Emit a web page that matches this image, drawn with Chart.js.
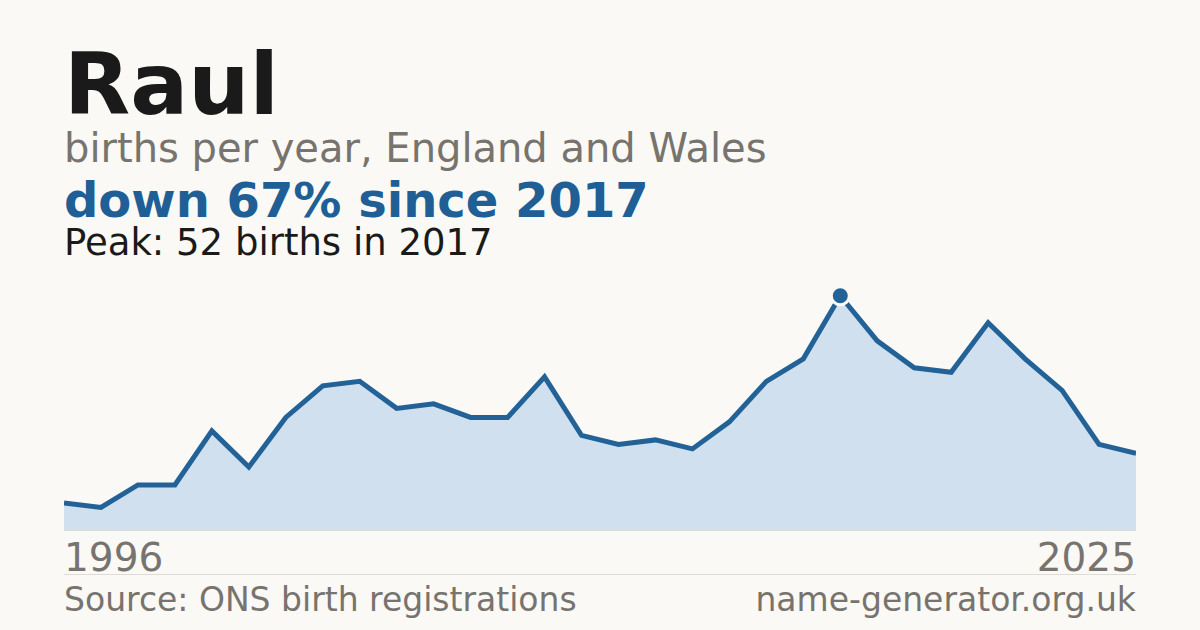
<!DOCTYPE html>
<html>
<head>
<meta charset="utf-8">
<script src="https://cdn.jsdelivr.net/npm/chart.js@4.4.1/dist/chart.umd.min.js"></script>
<style>
  html, body { margin: 0; padding: 0; }
  body { width: 1200px; height: 630px; background: #faf9f5; position: relative; overflow: hidden;
         font-family: "DejaVu Sans", sans-serif; }
  .t { position: absolute; left: 64px; line-height: 1; white-space: nowrap; }
  #name { top: 41px; font-size: 86px; font-weight: bold; color: #1a1a1a; }
  #sub { top: 128px; font-size: 40px; color: #77736e; }
  #change { top: 176px; font-size: 48px; font-weight: bold; color: #205f96; }
  #peak { top: 224px; font-size: 37px; color: #1a1a1a; }
  #wrap { position: absolute; left: 64px; top: 280px; width: 1072px; height: 250px; }
  #base { position: absolute; left: 64px; top: 530px; width: 1072px; height: 1px; background: #dedbd4; }
  #sep { position: absolute; left: 64px; top: 574px; width: 1072px; height: 1px; background: #dedbd4; }
  .yr { position: absolute; top: 538px; font-size: 39px; color: #77736e; line-height: 1; }
  #yFirst { left: 64px; }
  #yLast { right: 64px; }
  .foot { position: absolute; top: 583px; font-size: 33px; color: #77736e; line-height: 1; white-space: nowrap; }
  #src { left: 64px; }
  #site { right: 64px; }
</style>
</head>
<body>
<div class="t" id="name">Raul</div>
<div class="t" id="sub">births per year, England and Wales</div>
<div class="t" id="change"></div>
<div class="t" id="peak"></div>
<div id="wrap"><canvas id="chart"></canvas></div>
<div id="base"></div>
<div class="yr" id="yFirst"></div>
<div class="yr" id="yLast"></div>
<div id="sep"></div>
<div class="foot" id="src">Source: ONS birth registrations</div>
<div class="foot" id="site">name-generator.org.uk</div>

<script>
// Data
const years = [1996, 1997, 1998, 1999, 2000, 2001, 2002, 2003, 2004, 2005,
               2006, 2007, 2008, 2009, 2010, 2011, 2012, 2013, 2014, 2015,
               2016, 2017, 2018, 2019, 2020, 2021, 2022, 2023, 2024, 2025];
const births = [6, 5, 10, 10, 22, 14, 25, 32, 33, 27,
                28, 25, 25, 34, 21, 19, 20, 18, 24, 33,
                38, 52, 42, 36, 35, 46, 38, 31, 19, 17];

// Peak and change text
const peakVal = Math.max(...births);
const peakIdx = births.indexOf(peakVal);
const lastVal = births[births.length - 1];
const pct = Math.round((1 - lastVal / peakVal) * 100);

document.getElementById('change').textContent = 'down ' + pct + '% since ' + years[peakIdx];
document.getElementById('peak').textContent = 'Peak: ' + peakVal + ' births in ' + years[peakIdx];
document.getElementById('yFirst').textContent = years[0];
document.getElementById('yLast').textContent = years[years.length - 1];

const lineColor = '#236297';

new Chart(document.getElementById('chart'), {
    type: 'line',
    data: {
        labels: years.map(String),
        datasets: [{
            data: births,
            borderColor: lineColor,
            borderWidth: 5,
            backgroundColor: '#d0e0ef',
            fill: 'origin',
            tension: 0,
            clip: false,
            pointRadius: births.map((v, i) => i === peakIdx ? 9 : 0),
            pointBackgroundColor: lineColor,
            pointBorderColor: '#faf9f5',
            pointBorderWidth: 3
        }]
    },
    options: {
        responsive: true,
        maintainAspectRatio: false,
        animation: false,
        layout: { padding: 0 },
        plugins: {
            legend: { display: false },
            tooltip: { enabled: false }
        },
        scales: {
            x: { display: false, offset: false },
            y: { display: false, min: 0, max: 55.5 }
        }
    }
});
</script>
</body>
</html>
